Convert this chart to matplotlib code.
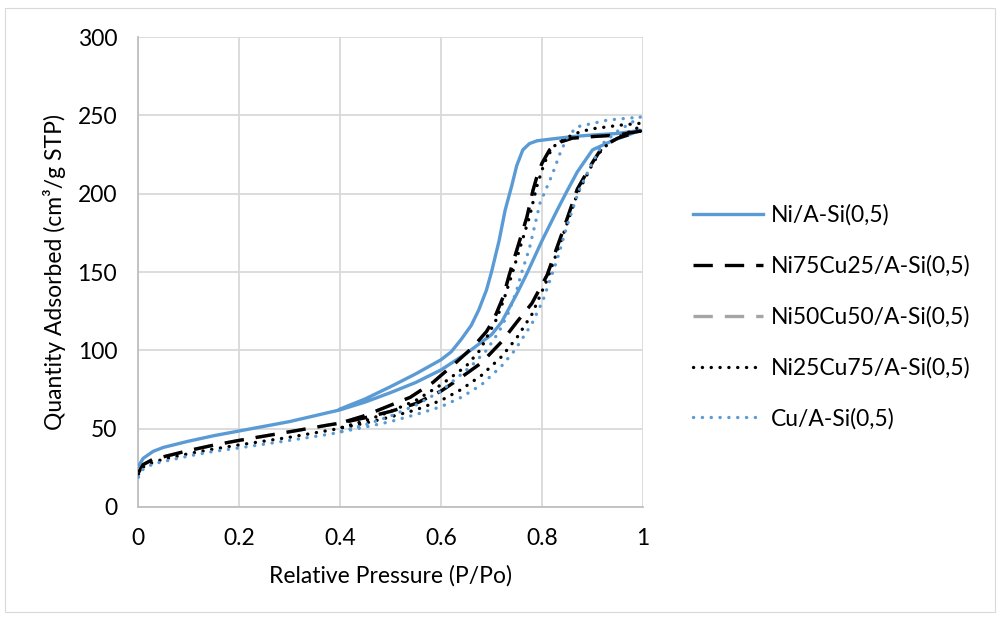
import matplotlib
matplotlib.use("Agg")
import matplotlib.pyplot as plt
from matplotlib.patches import Rectangle

plt.rcParams["font.family"] = ["Lato", "DejaVu Sans"]

# N2 isotherms: adsorption branch (P/Po rising) then desorption branch (falling)
ni_ads_x = [0.001, 0.01, 0.03, 0.05, 0.1, 0.15, 0.2, 0.3, 0.38, 0.4, 0.45, 0.5, 0.55, 0.6,
            0.65, 0.7, 0.72, 0.75, 0.77, 0.8, 0.83, 0.85, 0.87, 0.9, 0.94, 0.97, 0.995]
ni_ads_y = [26, 31, 35.5, 38, 42, 45.5, 48.5, 54.5, 60.5, 62, 67, 73, 79.5, 87.5,
            98, 110, 118, 136, 149, 170, 189.5, 202, 214, 228, 234, 237.5, 240.5]
ni_des_x = [0.995, 0.95, 0.9, 0.86, 0.82, 0.79, 0.775, 0.762, 0.75, 0.74, 0.727, 0.715,
            0.70, 0.69, 0.675, 0.66, 0.64, 0.62, 0.6, 0.55, 0.5, 0.45, 0.4]
ni_des_y = [240.5, 238.5, 237.5, 236.5, 235, 233.8, 232, 228, 218, 205, 189.5, 170,
            150, 138.5, 126, 116, 107, 99, 94, 85, 76.8, 69, 62.5]

ni75_ads_x = [0.001, 0.01, 0.03, 0.05, 0.1, 0.15, 0.2, 0.3, 0.38, 0.4, 0.45, 0.5, 0.55, 0.6,
              0.63, 0.68, 0.72, 0.75, 0.78, 0.81, 0.84, 0.87, 0.9, 0.92, 0.95, 0.97, 0.995]
ni75_ads_y = [22, 27, 30.5, 32, 36, 39.5, 42.5, 48, 52.5, 53.5, 57, 61, 66, 74,
              80.5, 92, 105.5, 118, 130, 148, 175, 203, 220, 230, 235.5, 237.5, 240]
ni75_des_x = [0.995, 0.95, 0.9, 0.86, 0.836, 0.815, 0.8, 0.79, 0.782, 0.77, 0.75, 0.735,
              0.723, 0.705, 0.69, 0.663, 0.624, 0.6, 0.584, 0.539, 0.485, 0.446, 0.4]
ni75_des_y = [240, 237.5, 236.5, 235.5, 233, 228, 219.5, 211, 202, 185, 164, 148,
              134, 120, 112, 102, 90.6, 84, 79.5, 70, 63, 58, 53.5]

# Ni50Cu50 lies under the Ni75Cu25 curve in the figure
ni50_ads_x = list(ni75_ads_x)
ni50_ads_y = list(ni75_ads_y)
ni50_des_x = list(ni75_des_x)
ni50_des_y = list(ni75_des_y)

ni25_ads_x = [0.001, 0.01, 0.03, 0.05, 0.1, 0.15, 0.2, 0.3, 0.38, 0.45, 0.5, 0.55, 0.6,
              0.64, 0.68, 0.72, 0.75, 0.78, 0.81, 0.84, 0.87, 0.9, 0.92, 0.95, 0.97, 0.995]
ni25_ads_y = [21, 25.5, 28.5, 30.5, 34, 37, 39.6, 44.5, 49, 53.5, 57.5, 62, 68,
              75, 84, 96, 108, 123, 145, 172, 200, 219, 229, 236, 239, 243]
ni25_des_x = [0.995, 0.955, 0.9, 0.875, 0.85, 0.822, 0.805, 0.79, 0.775, 0.755, 0.74,
              0.725, 0.71, 0.69, 0.677, 0.65, 0.6, 0.55, 0.5, 0.45, 0.4]
ni25_des_y = [245, 243.8, 241.5, 239.5, 236, 230, 220, 205, 185, 164, 148,
              133, 120, 108, 100, 90, 78, 68, 61, 55, 50.5]

cu_ads_x = [0.001, 0.01, 0.03, 0.05, 0.1, 0.15, 0.2, 0.3, 0.38, 0.45, 0.5, 0.55, 0.6,
            0.64, 0.68, 0.72, 0.746, 0.78, 0.802, 0.83, 0.85, 0.873, 0.9, 0.92, 0.95, 0.97, 0.995]
cu_ads_y = [19, 24, 27.5, 29, 32.5, 35.5, 37.7, 42.5, 46.5, 51, 54.5, 59, 64,
            70, 78, 90, 100, 117, 132, 158, 180, 202, 220, 232, 240, 244, 249]
cu_des_x = [0.995, 0.929, 0.869, 0.85, 0.836, 0.82, 0.796, 0.775, 0.76, 0.75, 0.735,
            0.715, 0.69, 0.66, 0.6, 0.55, 0.5, 0.45, 0.4]
cu_des_y = [249, 247, 242.7, 236, 226, 212, 194, 165, 150, 138.5, 125,
            112, 100, 90, 74, 65, 58, 52.5, 48]

labels = ["Ni/A-Si(0,5)", "Ni75Cu25/A-Si(0,5)", "Ni50Cu50/A-Si(0,5)",
          "Ni25Cu75/A-Si(0,5)", "Cu/A-Si(0,5)"]
x_ticks = [0, 0.2, 0.4, 0.6, 0.8, 1]
x_tick_labels = ["0", "0.2", "0.4", "0.6", "0.8", "1"]
y_ticks = [0, 50, 100, 150, 200, 250, 300]

blue = "#5B9BD5"
gray = "#A5A5A5"
fs = 16.5

fig = plt.figure(figsize=(10, 6.19), dpi=100)
fig.patches.append(Rectangle((0.005, 0.012), 0.99, 0.975, transform=fig.transFigure,
                             fill=False, edgecolor="#D9D9D9", linewidth=0.8))
ax = fig.add_axes([0.138, 0.181, 0.505, 0.759])

series = [
    (ni_ads_x + ni_des_x, ni_ads_y + ni_des_y, dict(color=blue, linestyle="-"), 3),
    (ni50_ads_x + ni50_des_x, ni50_ads_y + ni50_des_y,
     dict(color=gray, linestyle=(0, (5.8, 3.6))), 2),
    (ni75_ads_x + ni75_des_x, ni75_ads_y + ni75_des_y,
     dict(color="black", linestyle=(0, (5.8, 3.6))), 4),
    (ni25_ads_x + ni25_des_x, ni25_ads_y + ni25_des_y,
     dict(color="black", linestyle=(0, (0.05, 2.6)), dash_capstyle="round"), 5),
    (cu_ads_x + cu_des_x, cu_ads_y + cu_des_y,
     dict(color=blue, linestyle=(0, (0.05, 2.6)), dash_capstyle="round"), 6),
]
handles = []
for xs, ys, style, z in series:
    line, = ax.plot(xs, ys, linewidth=2.4, zorder=z, **style)
    handles.append(line)
# legend order follows the series order
handles = [handles[0], handles[2], handles[1], handles[3], handles[4]]

ax.set_xlim(0, 1)
ax.set_ylim(0, 300)
ax.set_xticks(x_ticks)
ax.set_xticklabels(x_tick_labels)
ax.set_yticks(y_ticks)
ax.grid(True, color="#D9D9D9", linewidth=1.3)
ax.set_axisbelow(True)
for side in ["top", "right"]:
    ax.spines[side].set_visible(False)
for side in ["left", "bottom"]:
    ax.spines[side].set_color("#BFBFBF")
    ax.spines[side].set_linewidth(1.3)
ax.tick_params(length=0, labelsize=fs, pad=15)

ax.set_xlabel("Relative Pressure (P/Po)", fontsize=fs, labelpad=12)
ax.set_ylabel("Quantity Adsorbed (cm³/g STP)", fontsize=fs, labelpad=8)

fig.legend(handles, labels, loc="center left", bbox_to_anchor=(0.672, 0.488),
           frameon=False, fontsize=fs, handlelength=3.05, handletextpad=0.35,
           labelspacing=1.28)

fig.savefig("out.png", dpi=100)
